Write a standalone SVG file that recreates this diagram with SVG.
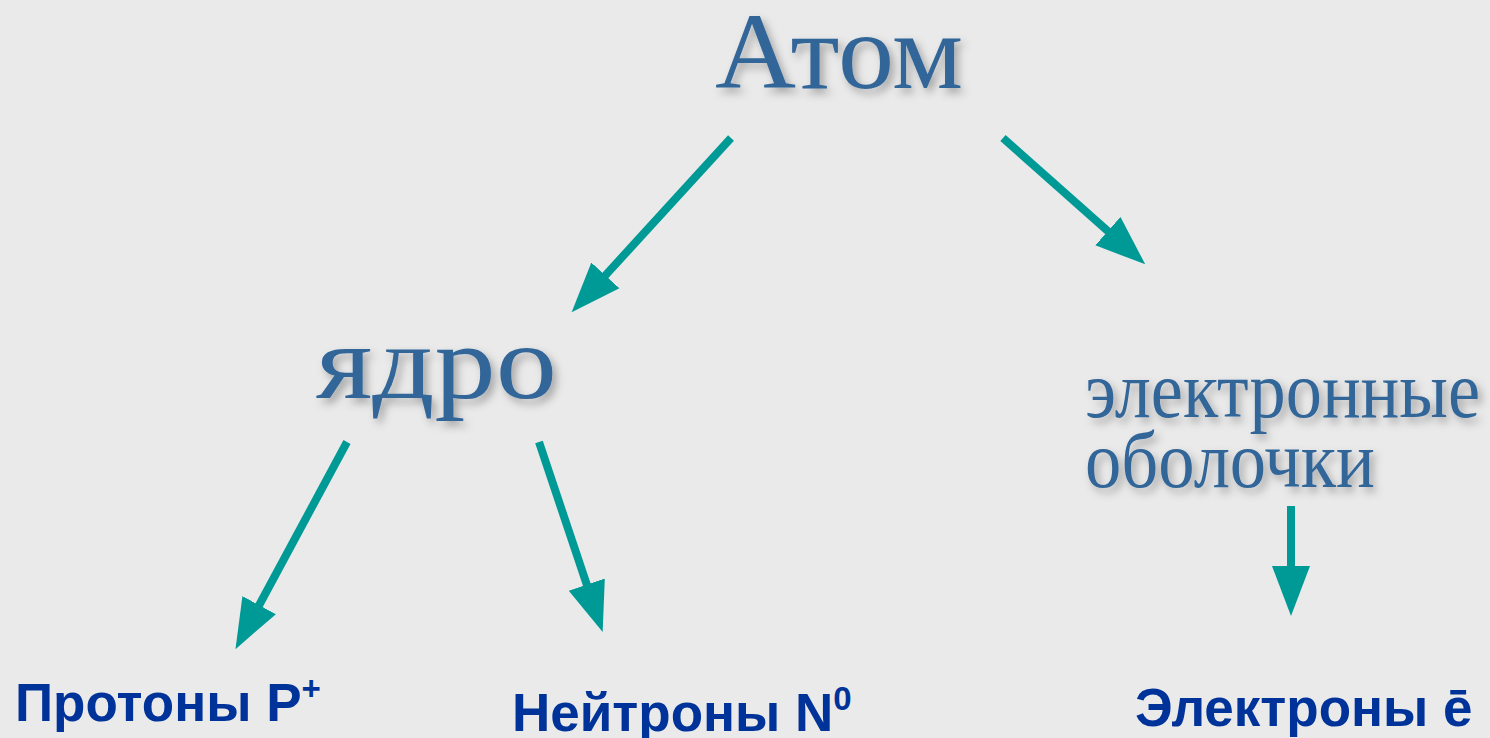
<svg xmlns="http://www.w3.org/2000/svg" width="1490" height="738" viewBox="0 0 1490 738">
<defs>
<style>
.serif{font-family:"Liberation Serif","Times New Roman",serif;fill:#336699;filter:url(#sh);}
.bold{font-family:"Liberation Sans",Arial,sans-serif;font-weight:bold;fill:#003399;}
.conn{stroke:#009A96;stroke-width:8;fill:none;}
</style>
<filter id="sh" x="-10%" y="-20%" width="130%" height="150%">
<feDropShadow dx="4" dy="5" stdDeviation="4" flood-color="#000" flood-opacity="0.3"/>
</filter>
<marker id="ah" markerUnits="userSpaceOnUse" markerWidth="52" markerHeight="40" viewBox="0 0 52 40" refX="1" refY="20" orient="auto">
<path d="M0,1 L50,20 L0,39 Z" fill="#009A96"/>
</marker>
</defs>
<rect width="1490" height="738" fill="#EAEAEA"/>
<g id="connectors">
<line class="conn" x1="731" y1="138" x2="604.7" y2="276.1" marker-end="url(#ah)"/>
<line class="conn" x1="1003" y1="138" x2="1108.6" y2="231.8" marker-end="url(#ah)"/>
<line class="conn" x1="347" y1="442" x2="258.7" y2="606" marker-end="url(#ah)"/>
<line class="conn" x1="539" y1="442" x2="587.1" y2="585.6" marker-end="url(#ah)"/>
<line class="conn" x1="1291" y1="506" x2="1291" y2="567" marker-end="url(#ah)"/>
</g>
<g id="atom"><text class="serif" x="715" y="88" font-size="108" textLength="248" lengthAdjust="spacingAndGlyphs">Атом</text></g>
<g id="nucleus"><text class="serif" x="316" y="398" font-size="106" textLength="241" lengthAdjust="spacingAndGlyphs">ядро</text></g>
<g id="shells"><text class="serif" x="1085" y="417" font-size="80" textLength="395" lengthAdjust="spacingAndGlyphs">электронные</text><text class="serif" x="1085" y="487" font-size="80" textLength="290" lengthAdjust="spacingAndGlyphs">оболочки</text></g>
<g id="protons"><text class="bold" x="15" y="721" font-size="53">Протоны P<tspan font-size="33" dy="-21">+</tspan></text></g>
<g id="neutrons"><text class="bold" x="512" y="731" font-size="53">Нейтроны N<tspan font-size="33" dy="-21">0</tspan></text></g>
<g id="electrons"><text class="bold" x="1135" y="726" font-size="53">Электроны ē</text></g>
</svg>
